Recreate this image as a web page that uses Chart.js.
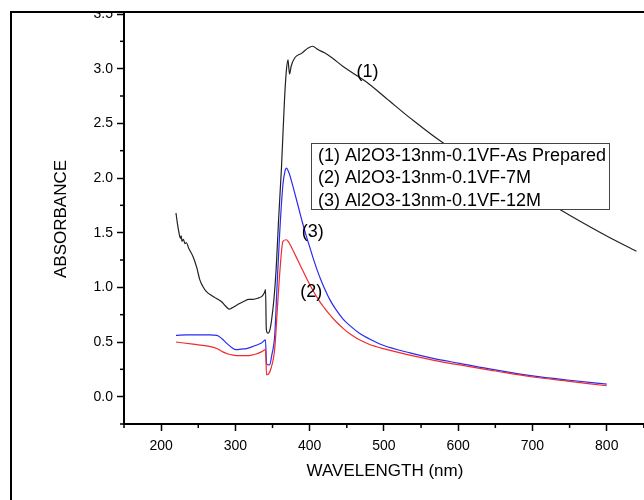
<!DOCTYPE html>
<html>
<head>
<meta charset="utf-8">
<script src="https://cdn.jsdelivr.net/npm/chart.js@4.4.1/dist/chart.umd.min.js"></script>
<style>
  html, body { margin: 0; padding: 0; background: #fff; overflow: hidden; }
  #frame {
    position: absolute; left: 10px; top: 11px; width: 700px; height: 600px;
    border-left: 2px solid #000; border-top: 2px solid #000; overflow: hidden;
  }
  #wrap { position: absolute; left: -12px; top: -13px; width: 720px; height: 500px; }
</style>
</head>
<body>
<div id="frame"><div id="wrap"><canvas id="myChart" width="720" height="500"></canvas></div></div>
<script>
// (1) as prepared - black
const wl1 = [220, 222, 224, 226, 227, 228, 230, 232, 234, 237, 243, 248, 252, 256, 261, 267, 274, 281, 288, 292, 295, 300, 305, 311, 318, 324, 330, 336, 339, 340.6, 341.6, 343.6, 346, 348.5, 352, 355, 358, 362, 366, 368.6, 370.8, 372, 373, 375, 380, 389, 398, 404, 411, 420, 430, 445, 465, 476, 503, 535, 580, 650, 700, 750, 800, 840];
const abs1 = [1.68, 1.58, 1.50, 1.45, 1.47, 1.42, 1.44, 1.40, 1.41, 1.36, 1.28, 1.18, 1.07, 1.01, 0.96, 0.93, 0.90, 0.87, 0.82, 0.80, 0.81, 0.83, 0.85, 0.87, 0.89, 0.89, 0.90, 0.92, 0.95, 0.98, 0.62, 0.58, 0.60, 0.69, 0.90, 1.18, 1.60, 2.09, 2.70, 2.98, 3.08, 3.00, 2.95, 3.02, 3.10, 3.14, 3.19, 3.205, 3.175, 3.145, 3.10, 3.02, 2.93, 2.88, 2.73, 2.55, 2.32, 2.05, 1.86, 1.66, 1.47, 1.33];

// (2) 7M - red
const wl2 = [220, 243, 265, 275, 283, 290, 297, 305, 315, 322, 328, 335, 340.5, 342, 345, 348, 353, 356, 359.5, 364, 368.6, 372, 376, 381, 386, 391, 396, 402, 408, 414, 420, 427, 435, 445, 455, 467, 480, 499, 535, 566, 602, 650, 700, 750, 800];
const abs2 = [0.50, 0.48, 0.46, 0.44, 0.41, 0.39, 0.38, 0.375, 0.375, 0.38, 0.39, 0.41, 0.43, 0.20, 0.21, 0.26, 0.44, 0.75, 1.11, 1.42, 1.435, 1.41, 1.36, 1.29, 1.22, 1.15, 1.08, 1.00, 0.93, 0.865, 0.81, 0.75, 0.69, 0.625, 0.57, 0.52, 0.48, 0.44, 0.38, 0.335, 0.29, 0.235, 0.18, 0.14, 0.10];

// (3) 12M - blue
const wl3 = [220, 235, 250, 265, 275, 282, 288, 295, 301, 308, 315, 322, 328, 335, 340.5, 342, 346, 349, 353, 356, 359.5, 364, 367, 368.6, 372, 376, 380, 385, 390, 395, 400, 405, 410, 415, 420, 427, 435, 445, 455, 467, 480, 499, 535, 566, 602, 650, 700, 750, 800];
const abs3 = [0.56, 0.565, 0.565, 0.565, 0.56, 0.53, 0.49, 0.45, 0.43, 0.435, 0.44, 0.455, 0.47, 0.49, 0.52, 0.30, 0.29, 0.38, 0.565, 1.00, 1.48, 1.94, 2.07, 2.09, 2.05, 1.96, 1.86, 1.73, 1.60, 1.48, 1.37, 1.26, 1.16, 1.07, 0.99, 0.89, 0.80, 0.71, 0.645, 0.58, 0.53, 0.47, 0.40, 0.35, 0.305, 0.245, 0.19, 0.15, 0.115];

const legendLines = ["(1) Al2O3-13nm-0.1VF-As Prepared", "(2) Al2O3-13nm-0.1VF-7M", "(3) Al2O3-13nm-0.1VF-12M"];
// curve labels: text, wavelength, absorbance
const curveLabels = [["(1)", 478, 2.97], ["(3)", 404, 1.51], ["(2)", 402, 0.96]];

const minorX = [150, 250, 350, 450, 550, 650, 750, 850];
const minorY = [-0.25, 0.25, 0.75, 1.25, 1.75, 2.25, 2.75, 3.25];

const toPts = (xs, ys) => xs.map((v, i) => ({x: v, y: ys[i]}));
const FONT = "'Liberation Sans', Arial, sans-serif";
Chart.defaults.font.family = FONT;

const decor = {
  id: 'decor',
  afterDraw(chart) {
    const {ctx, scales: {x, y}} = chart;
    ctx.save();
    ctx.strokeStyle = '#000';
    ctx.lineWidth = 1.5;
    minorX.forEach(v => {
      const px = x.getPixelForValue(v);
      ctx.beginPath(); ctx.moveTo(px, y.bottom); ctx.lineTo(px, y.bottom + 4); ctx.stroke();
    });
    minorY.forEach(v => {
      const py = y.getPixelForValue(v);
      ctx.beginPath(); ctx.moveTo(x.left, py); ctx.lineTo(x.left - 4, py); ctx.stroke();
    });

    // curve labels
    ctx.fillStyle = '#000';
    ctx.font = '18px ' + FONT;
    ctx.textAlign = 'center';
    ctx.textBaseline = 'middle';
    curveLabels.forEach(([t, wx, wy]) => {
      ctx.fillText(t, x.getPixelForValue(wx), y.getPixelForValue(wy));
    });

    // legend box
    ctx.fillStyle = '#fff';
    ctx.fillRect(311, 143, 298, 66);
    ctx.strokeStyle = '#444';
    ctx.lineWidth = 1;
    ctx.strokeRect(311.5, 143.5, 298, 66);
    ctx.fillStyle = '#000';
    ctx.textAlign = 'left';
    legendLines.forEach((t, i) => {
      ctx.fillText(t, 318, 156 + i * 22.5);
    });

    // axis titles
    ctx.font = '17px ' + FONT;
    ctx.textAlign = 'center';
    ctx.fillText('WAVELENGTH (nm)', 385, 471);
    ctx.save();
    ctx.translate(61, 219);
    ctx.rotate(-Math.PI / 2);
    ctx.fillText('ABSORBANCE', 0, 0);
    ctx.restore();
    ctx.restore();
  }
};

new Chart(document.getElementById('myChart').getContext('2d'), {
  type: 'line',
  data: {
    datasets: [
      {label: legendLines[0], data: toPts(wl1, abs1), borderColor: '#222', borderWidth: 1.2},
      {label: legendLines[1], data: toPts(wl2, abs2), borderColor: '#f22a2a', borderWidth: 1.2},
      {label: legendLines[2], data: toPts(wl3, abs3), borderColor: '#2a2af2', borderWidth: 1.2}
    ]
  },
  options: {
    responsive: false,
    animation: false,
    devicePixelRatio: 1,
    layout: {padding: {left: 0, right: 39, top: 14, bottom: 0}},
    elements: {
      point: {radius: 0},
      line: {cubicInterpolationMode: 'monotone', fill: false}
    },
    plugins: {legend: {display: false}, tooltip: {enabled: false}},
    scales: {
      x: {
        type: 'linear', min: 150, max: 900,
        afterFit: s => { s.height = 76; },
        border: {display: true, color: '#000', width: 2},
        grid: {drawOnChartArea: false, drawTicks: true, tickLength: 7, tickWidth: 1.5, tickColor: '#000'},
        ticks: {stepSize: 100, includeBounds: false, color: '#000', font: {size: 14}, padding: 7, maxRotation: 0,
                callback: v => String(v)}
      },
      y: {
        type: 'linear', min: -0.25, max: 3.5,
        afterFit: s => { s.width = 124; },
        border: {display: true, color: '#000', width: 2},
        grid: {drawOnChartArea: false, drawTicks: true, tickLength: 7, tickWidth: 1.5, tickColor: '#000'},
        ticks: {stepSize: 0.5, includeBounds: false, color: '#000', font: {size: 14}, padding: 4,
                callback: v => v.toFixed(1)}
      }
    }
  },
  plugins: [decor]
});
</script>
</body>
</html>
